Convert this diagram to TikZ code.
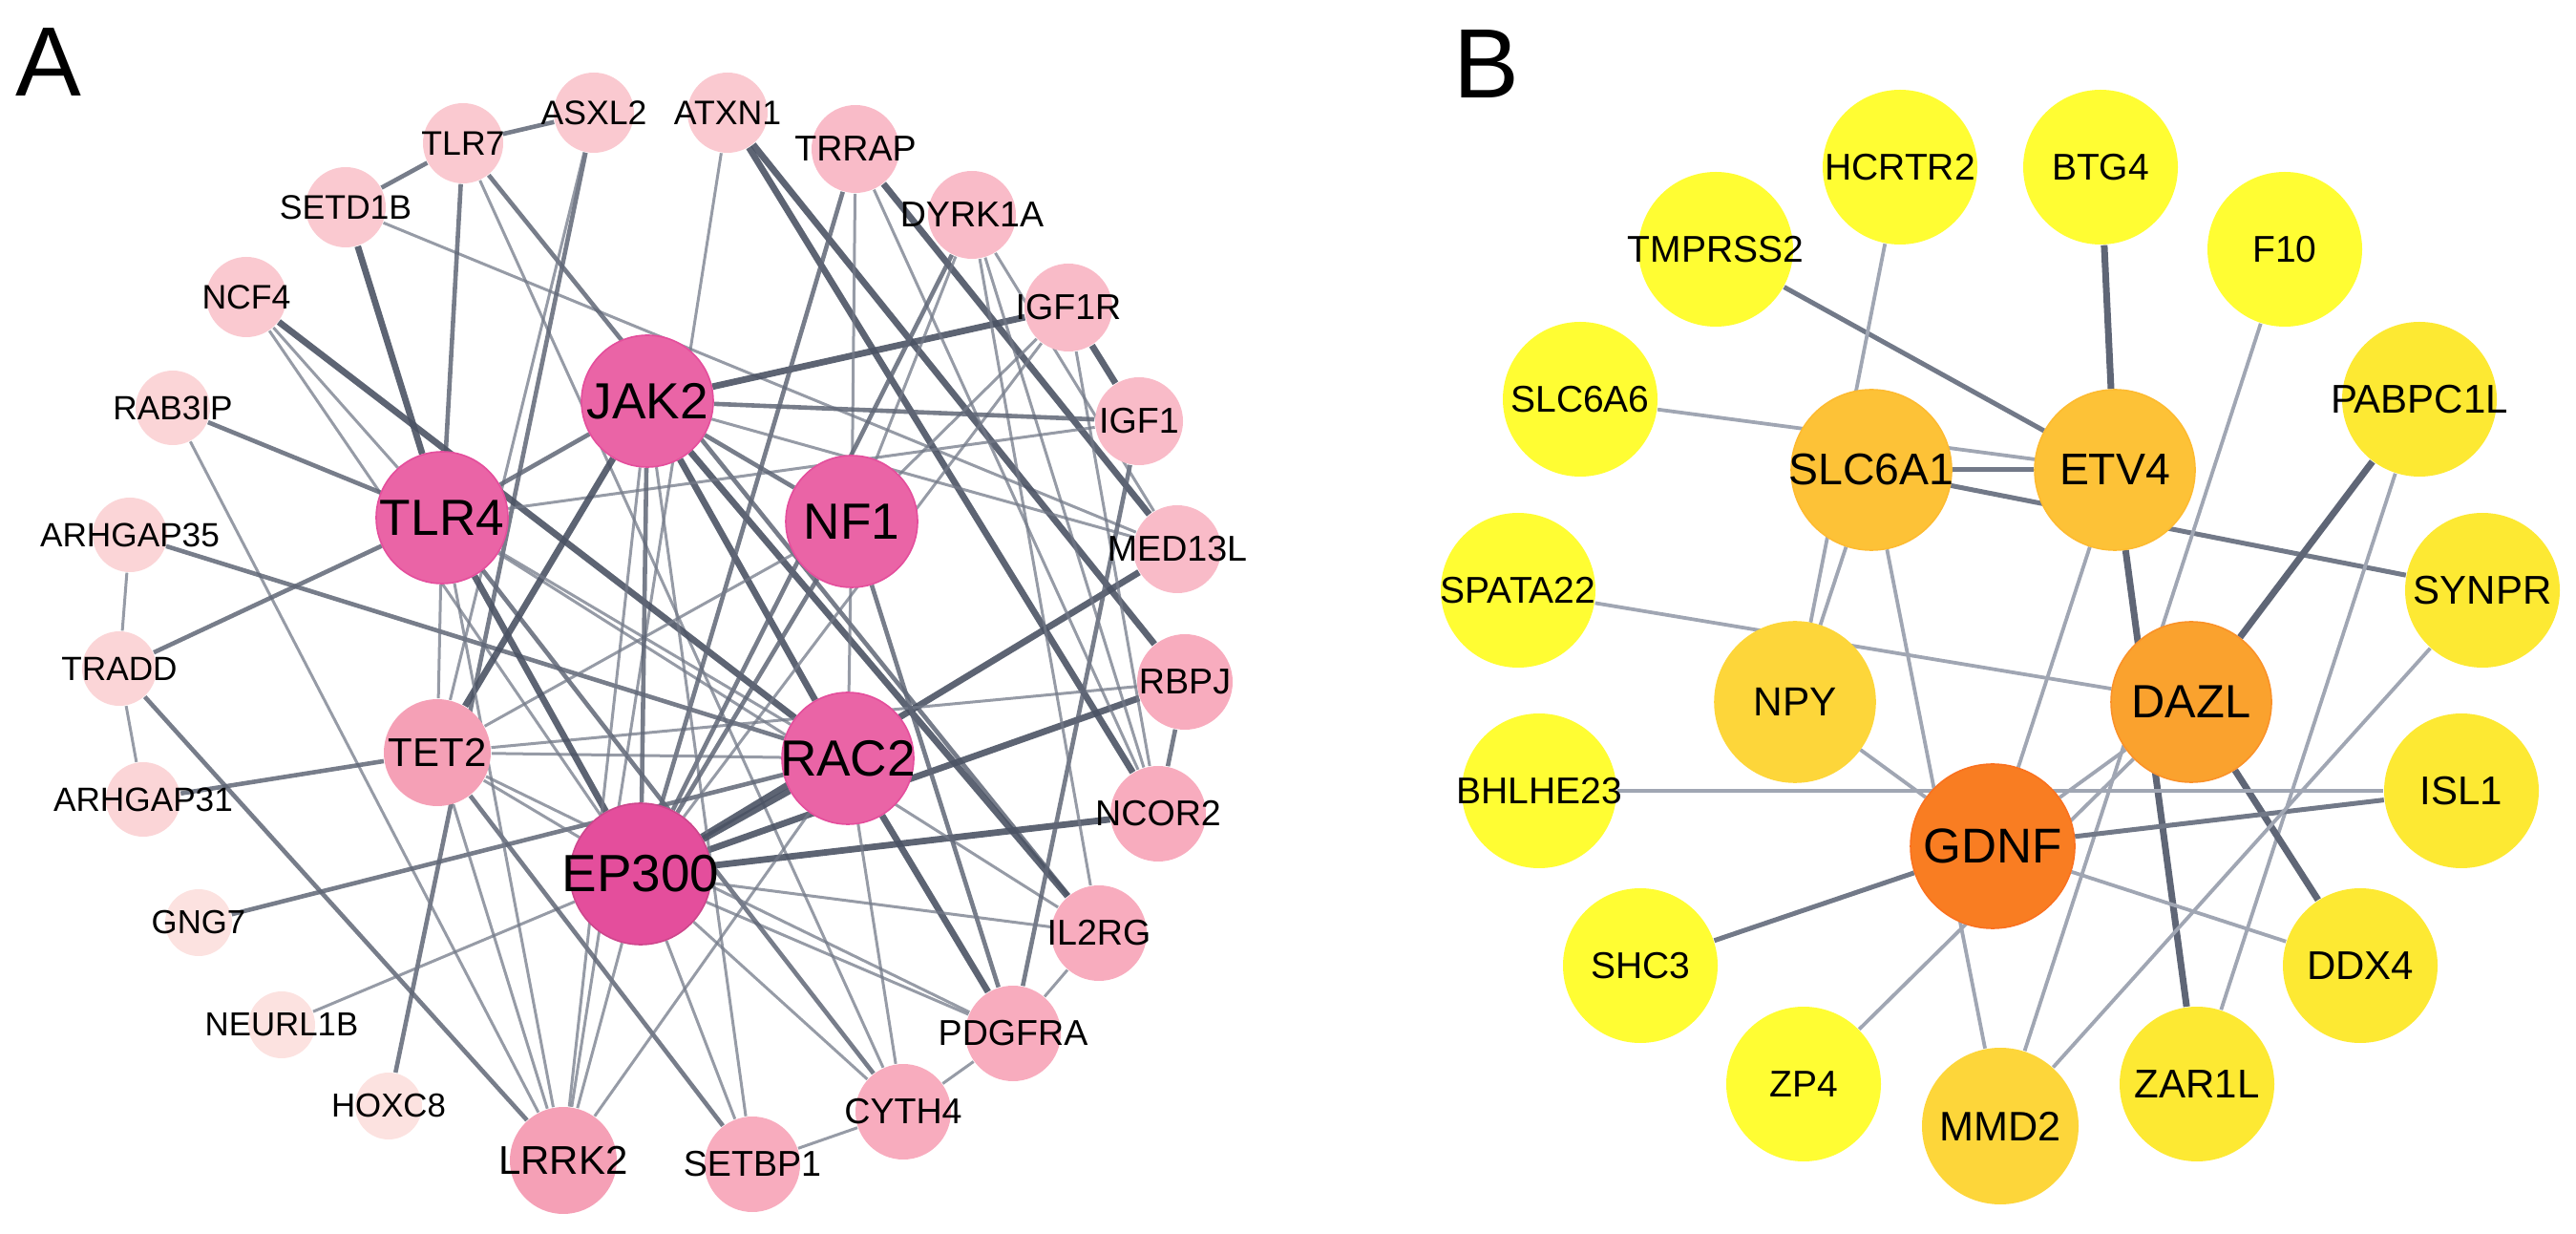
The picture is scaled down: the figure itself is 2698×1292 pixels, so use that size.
\documentclass[tikz,border=0pt]{standalone}
\usepackage{fontspec}
\setmainfont{Liberation Sans}
\usetikzlibrary{backgrounds}
\definecolor{pkA1}{HTML}{FCE2E0}
\definecolor{pkA2}{HTML}{FBD5D7}
\definecolor{pkA3}{HTML}{FAC9D0}
\definecolor{pkA4}{HTML}{F9BBC8}
\definecolor{pkA5}{HTML}{F8ACBE}
\definecolor{pkA6}{HTML}{F5A0B6}
\definecolor{pkA7}{HTML}{EA64A6}
\definecolor{pkA8}{HTML}{E44E9C}
\definecolor{ylB1}{HTML}{FFFD33}
\definecolor{ylB2}{HTML}{FDE933}
\definecolor{ylB3}{HTML}{FDD63A}
\definecolor{orB1}{HTML}{FDC237}
\definecolor{orB2}{HTML}{FAA22E}
\definecolor{orB3}{HTML}{F97D22}
\definecolor{edgeDark}{HTML}{4B5364}
\definecolor{edgeMid}{HTML}{5F6676}
\definecolor{edgeLight}{HTML}{737A88}
\definecolor{edgeB}{HTML}{A0A6B3}
\tikzset{%
  panel/.style={font=\fontsize{25.8}{26}\selectfont, inner sep=0pt},
  gene/.style={circle, inner sep=0pt, text=black,
    execute at begin node={\hbox to 0pt\bgroup\hss},
    execute at end node={\hss\egroup}},
  gA1/.style={gene, fill=pkA1, minimum size=17.5pt, font=\fontsize{8.7}{9}\selectfont},
  gA2/.style={gene, fill=pkA2, minimum size=19.5pt, font=\fontsize{8.8}{9}\selectfont},
  gA3/.style={gene, fill=pkA3, minimum size=21pt, font=\fontsize{8.9}{9}\selectfont},
  gA4/.style={gene, fill=pkA4, minimum size=23pt, font=\fontsize{9.4}{10}\selectfont},
  gA5/.style={gene, fill=pkA5, minimum size=25pt, font=\fontsize{9.4}{10}\selectfont},
  gA6/.style={gene, fill=pkA6, minimum size=28pt, font=\fontsize{10.5}{11}\selectfont},
  hubA/.style={gene, fill=pkA7, draw=pkA8, line width=0.4pt, minimum size=34.5pt, font=\fontsize{13.3}{14}\selectfont},
  topA/.style={gene, fill=pkA8, draw=pkA8!90!black, line width=0.4pt, minimum size=37pt, font=\fontsize{13.7}{14}\selectfont},
  gB1/.style={gene, fill=ylB1, minimum size=40.5pt, font=\fontsize{9.75}{10}\selectfont},
  gB2/.style={gene, fill=ylB2, minimum size=40.5pt, font=\fontsize{10.5}{11}\selectfont},
  gB3/.style={gene, fill=ylB3, minimum size=41pt, font=\fontsize{10.8}{11}\selectfont},
  hubB/.style={gene, fill=orB1, draw=orB1!90!orange, line width=0.4pt, minimum size=42pt, font=\fontsize{11.6}{12}\selectfont},
  link/.style={draw, line width=0.75pt, color=edgeLight, opacity=0.75},
  link mid/.style={draw, line width=1.15pt, color=edgeMid, opacity=0.85},
  link thick/.style={draw, line width=1.7pt, color=edgeDark, opacity=0.9},
  blink/.style={draw, line width=0.95pt, color=edgeB},
  blink mid/.style={draw, line width=1.25pt, color=edgeMid!70!edgeB},
  blink thick/.style={draw, line width=1.75pt, color=edgeMid},
}

\begin{document}
\begin{tikzpicture}[x=0.25pt, y=-0.25pt]
  \useasboundingbox (0,0) rectangle (2698,1292);
  \node [panel, anchor=base west] (lblA) at (16,101) {A};
  \node [panel, anchor=base west] (lblB) at (1522,103) {B};

  % network A: outer ring
  \node [gA3] (ASXL2) at (622,118) {ASXL2};
  \node [gA3] (ATXN1) at (762,118) {ATXN1};
  \node [gA4] (TRRAP) at (896,156) {TRRAP};
  \node [gA4] (DYRK1A) at (1018,225) {DYRK1A};
  \node [gA4] (IGF1R) at (1119,322) {IGF1R};
  \node [gA4] (IGF1) at (1193,441) {IGF1};
  \node [gA4] (MED13L) at (1233,575) {MED13L};
  \node [gA5] (RBPJ) at (1241,714) {RBPJ};
  \node [gA5] (NCOR2) at (1213,852) {NCOR2};
  \node [gA5] (IL2RG) at (1151,977) {IL2RG};
  \node [gA5] (PDGFRA) at (1061,1082) {PDGFRA};
  \node [gA5] (CYTH4) at (946,1164) {CYTH4};
  \node [gA5] (SETBP1) at (788,1219) {SETBP1};
  \node [gA6] (LRRK2) at (590,1215) {LRRK2};
  \node [gA1] (HOXC8) at (407,1158) {HOXC8};
  \node [gA1] (NEURL1B) at (295,1073) {NEURL1B};
  \node [gA1] (GNG7) at (208,966) {GNG7};
  \node [gA2] (ARHGAP31) at (150,837) {ARHGAP31};
  \node [gA2] (TRADD) at (125,700) {TRADD};
  \node [gA2] (ARHGAP35) at (136,560) {ARHGAP35};
  \node [gA2] (RAB3IP) at (181,427) {RAB3IP};
  \node [gA3] (NCF4) at (258,311) {NCF4};
  \node [gA3] (SETD1B) at (362,217) {SETD1B};
  \node [gA3] (TLR7) at (485,150) {TLR7};
  % network A: inner ring
  \node [hubA] (JAK2) at (678,420) {JAK2};
  \node [hubA] (NF1) at (892,546) {NF1};
  \node [hubA] (TLR4) at (463,542) {TLR4};
  \node [hubA] (RAC2) at (888,794) {RAC2};
  \node [gA6] (TET2) at (458,788) {TET2};
  \node [topA] (EP300) at (671,915) {EP300};

  % network B: outer ring
  \node [gB3] (MMD2) at (2095,1179) {MMD2};
  \node [gB2] (ZAR1L) at (2301,1135) {ZAR1L};
  \node [gB2] (DDX4) at (2472,1011) {DDX4};
  \node [gB2] (ISL1) at (2578,828) {ISL1};
  \node [gB2] (SYNPR) at (2600,618) {SYNPR};
  \node [gB2] (PABPC1L) at (2534,418) {PABPC1L};
  \node [gB1] (F10) at (2393,261) {F10};
  \node [gB1] (BTG4) at (2200,175) {BTG4};
  \node [gB1] (HCRTR2) at (1990,175) {HCRTR2};
  \node [gB1] (TMPRSS2) at (1797,261) {TMPRSS2};
  \node [gB1] (SLC6A6) at (1655,418) {SLC6A6};
  \node [gB1] (SPATA22) at (1590,618) {SPATA22};
  \node [gB1] (BHLHE23) at (1612,828) {BHLHE23};
  \node [gB1] (SHC3) at (1718,1011) {SHC3};
  \node [gB1] (ZP4) at (1889,1135) {ZP4};
  % network B: inner ring
  \node [hubB] (SLC6A1) at (1960,492) {SLC6A1};
  \node [hubB] (ETV4) at (2215,492) {ETV4};
  \node [hubB, fill=ylB3, draw=ylB3, font=\fontsize{10.6}{11}\selectfont] (NPY) at (1880,735) {NPY};
  \node [hubB, fill=orB2, draw=orB2!90!red, font=\fontsize{12.2}{13}\selectfont] (DAZL) at (2295,735) {DAZL};
  \node [hubB, fill=orB3, draw=orB3!90!red, minimum size=43pt, font=\fontsize{12.8}{13}\selectfont] (GDNF) at (2087,886) {GDNF};

  \begin{scope}[on background layer]
    % edges A
    \path [link mid] (TLR7) -- (ASXL2);
    \path [link mid] (SETD1B) -- (TLR7);
    \path [link thick] (SETD1B) -- (TLR4);
    \path [link] (SETD1B) -- (MED13L);
    \path [link mid] (TLR7) -- (TLR4);
    \path [link mid] (TLR7) -- (IL2RG);
    \path [link] (TLR7) -- (CYTH4);
    \path [link mid] (ASXL2) -- (HOXC8);
    \path [link] (ASXL2) -- (TET2);
    \path [link] (ATXN1) -- (LRRK2);
    \path [link thick] (ATXN1) -- (RBPJ);
    \path [link thick] (ATXN1) -- (NCOR2);
    \path [link thick] (NCF4) -- (RAC2);
    \path [link] (NCF4) -- (TLR4);
    \path [link] (NCF4) -- (EP300);
    \path [link mid] (RAB3IP) -- (TLR4);
    \path [link] (RAB3IP) -- (LRRK2);
    \path [link] (ARHGAP35) -- (TRADD);
    \path [link mid] (ARHGAP35) -- (RAC2);
    \path [link] (TRADD) -- (ARHGAP31);
    \path [link mid] (TRADD) -- (TLR4);
    \path [link mid] (TRADD) -- (LRRK2);
    \path [link mid] (ARHGAP31) -- (TET2);
    \path [link mid] (GNG7) -- (RAC2);
    \path [link] (NEURL1B) -- (EP300);
    \path [link thick] (JAK2) -- (IGF1R);
    \path [link thick] (JAK2) -- (IL2RG);
    \path [link thick] (JAK2) -- (RAC2);
    \path [link thick] (TRRAP) -- (MED13L);
    \path [link thick] (EP300) -- (NCOR2);
    \path [link thick] (EP300) -- (RBPJ);
    \path [link thick] (EP300) -- (MED13L);
    \path [link mid] (RBPJ) -- (NCOR2);
    \path [link] (TET2) -- (RBPJ);
    \path [link] (TLR4) -- (IL2RG);
    \path [link mid] (IGF1) -- (PDGFRA);
    \path [link] (DYRK1A) -- (NCOR2);
    \path [link thick] (IGF1R) -- (IGF1);
    \path [link thick] (RAC2) -- (PDGFRA);
    \path [link] (IL2RG) -- (PDGFRA);
    \path [link] (CYTH4) -- (PDGFRA);
    \path [link] (SETBP1) -- (CYTH4);
    \path [link mid] (TRRAP) -- (EP300);
    \path [link] (TRRAP) -- (NF1);
    \path [link] (TRRAP) -- (NCOR2);
    \path [link mid] (DYRK1A) -- (EP300);
    \path [link] (DYRK1A) -- (NF1);
    \path [link] (DYRK1A) -- (IL2RG);
    \path [link] (DYRK1A) -- (MED13L);
    \path [link] (IGF1R) -- (NF1);
    \path [link] (IGF1R) -- (EP300);
    \path [link] (IGF1R) -- (NCOR2);
    \path [link mid] (JAK2) -- (IGF1);
    \path [link] (TLR4) -- (IGF1);
    \path [link] (JAK2) -- (MED13L);
    \path [link] (EP300) -- (PDGFRA);
    \path [link mid] (NF1) -- (PDGFRA);
    \path [link mid] (TLR4) -- (CYTH4);
    \path [link] (RAC2) -- (CYTH4);
    \path [link mid] (TET2) -- (SETBP1);
    \path [link] (JAK2) -- (SETBP1);
    \path [link] (TET2) -- (LRRK2);
    \path [link] (EP300) -- (LRRK2);
    \path [link] (RAC2) -- (LRRK2);
    \path [link thick] (TET2) -- (JAK2);
    \path [link] (TLR4) -- (TET2);
    \path [link] (TET2) -- (NF1);
    \path [link] (TET2) -- (EP300);
    \path [link] (TET2) -- (PDGFRA);
    \path [link] (TET2) -- (RAC2);
    \path [link mid] (TLR4) -- (JAK2);
    \path [link thick] (TLR4) -- (EP300);
    \path [link] (TLR4) -- (RAC2);
    \path [link] (TLR4) -- (LRRK2);
    \path [link mid] (JAK2) -- (EP300);
    \path [link] (JAK2) -- (LRRK2);
    \path [link mid] (JAK2) -- (NF1);
    \path [link mid] (NF1) -- (EP300);
    \path [link] (NF1) -- (RAC2);
    \path [link thick] (EP300) -- (RAC2);
    \path [link] (EP300) -- (IL2RG);
    \path [link] (EP300) -- (CYTH4);
    \path [link] (EP300) -- (SETBP1);
    % edges B
    \path [blink mid] (TMPRSS2) -- (ETV4);
    \path [blink] (HCRTR2) -- (NPY);
    \path [blink] (SLC6A6) -- (ETV4);
    \path [blink mid] (SLC6A1) -- (ETV4);
    \path [blink mid] (SLC6A1) -- (SYNPR);
    \path [blink thick] (BTG4) -- (ETV4);
    \path [blink] (F10) -- (MMD2);
    \path [blink thick] (PABPC1L) -- (DAZL);
    \path [blink] (PABPC1L) -- (ZAR1L);
    \path [blink thick] (ETV4) -- (ZAR1L);
    \path [blink thick] (DAZL) -- (DDX4);
    \path [blink] (SPATA22) -- (DAZL);
    \path [blink] (BHLHE23) -- (ISL1);
    \path [blink mid] (GDNF) -- (ISL1);
    \path [blink mid] (SHC3) -- (GDNF);
    \path [blink] (ZP4) -- (DAZL);
    \path [blink] (NPY) -- (GDNF);
    \path [blink] (SLC6A1) -- (NPY);
    \path [blink] (SLC6A1) -- (MMD2);
    \path [blink] (ETV4) -- (GDNF);
    \path [blink] (GDNF) -- (DAZL);
    \path [blink] (GDNF) -- (DDX4);
    \path [blink] (MMD2) -- (SYNPR);
  \end{scope}
\end{tikzpicture}
\end{document}
